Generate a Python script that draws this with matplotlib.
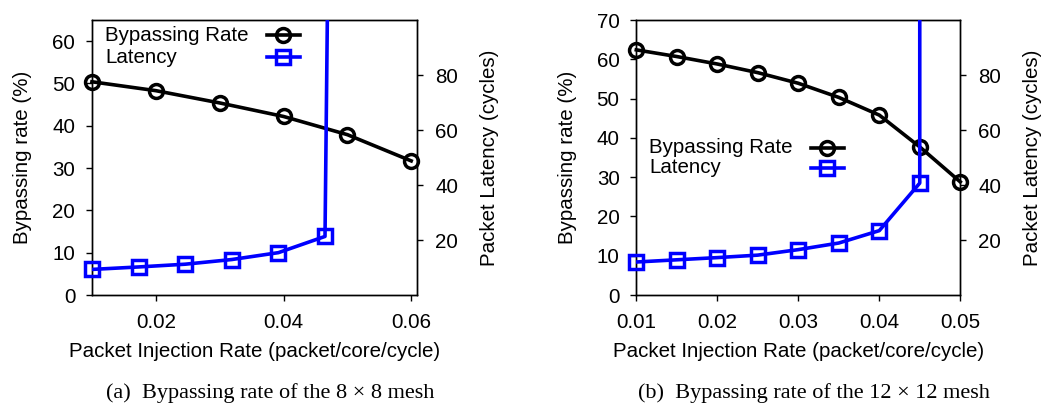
import matplotlib
matplotlib.use("Agg")
import numpy as np
import matplotlib.pyplot as plt


# =========================
# 1. Data
# =========================
# (a) 8x8 mesh
rate_8 = [0.01, 0.02, 0.03, 0.04, 0.05, 0.06]
bypass_8 = [50.4, 48.3, 45.4, 42.2, 37.9, 31.7]
lat_rate_8 = [0.01, 0.0173, 0.0246, 0.0319, 0.0392, 0.0465, 0.0470]
latency_8 = [9.3, 10.2, 11.2, 12.9, 15.4, 21.3, 130.0]

# (b) 12x12 mesh
rate_12 = [0.01, 0.015, 0.02, 0.025, 0.03, 0.035, 0.04, 0.045, 0.05]
bypass_12 = [62.4, 60.7, 58.8, 56.6, 53.9, 50.3, 45.8, 37.7, 28.8]
lat_rate_12 = [0.01, 0.015, 0.02, 0.025, 0.03, 0.035, 0.04, 0.045, 0.045]
latency_12 = [12.0, 12.8, 13.6, 14.5, 16.5, 18.9, 23.4, 40.7, 200.0]

captions = ["(a)  Bypassing rate of the 8 \u00d7 8 mesh",
            "(b)  Bypassing rate of the 12 \u00d7 12 mesh"]

FS = 14.8
CAP_FS = 16
LW = 2.6
MS = 10
MEW = 2.5
BLUE = "#0000ff"
plt.rcParams["font.family"] = ["Liberation Sans", "DejaVu Sans"]


def draw_panel(fig, rect, x1, y1, x2, y2, xlim, ylim, xticks, yticks, key_y):
    ax = fig.add_axes(rect)
    ax2 = ax.twinx()

    ax.plot(x1, y1, color="black", lw=LW, marker="o", ms=MS, mew=MEW,
            mfc="none", clip_on=False, zorder=5)

    # latency: line clipped at the top, markers kept whole at the edges
    ax2.plot(x2, y2, color=BLUE, lw=LW, zorder=4)
    x2 = np.array(x2)
    y2 = np.array(y2)
    keep = y2 <= 100
    ax2.plot(x2[keep], y2[keep], ls="none", marker="s", ms=MS, mew=MEW,
             mec=BLUE, mfc="none", clip_on=False, zorder=5)

    ax.set_xlim(*xlim)
    ax.set_ylim(*ylim)
    ax2.set_ylim(0, 100)
    ax.set_xticks(xticks)
    ax.set_xticklabels([f"{t:.2f}" for t in xticks])
    ax.set_yticks(yticks)
    ax2.set_yticks([20, 40, 60, 80])

    for a in (ax, ax2):
        a.tick_params(direction="out", length=4, width=1, labelsize=FS)
        for s in a.spines.values():
            s.set_linewidth(1.0)
    ax.tick_params(axis="x", pad=9)
    ax.tick_params(axis="y", pad=8)
    ax2.tick_params(axis="y", pad=9)

    ax.set_xlabel("Packet Injection Rate (packet/core/cycle)", fontsize=FS)
    ax.set_ylabel("Bypassing rate (%)", fontsize=FS)
    ax2.set_ylabel("Packet Latency (cycles)", fontsize=FS)
    ax.xaxis.set_label_coords(0.5, -0.207)
    ax.xaxis.label.set_va("center")
    ax.yaxis.set_label_coords(-0.213, 0.5)
    ax.yaxis.label.set_va("center")
    ax2.yaxis.set_label_coords(1.223, 0.5)
    ax2.yaxis.label.set_va("center")

    # gnuplot style key: text left, sample right
    ax2.text(0.04, key_y[0], "Bypassing Rate", transform=ax2.transAxes,
             fontsize=FS, va="center", ha="left")
    ax2.text(0.04, key_y[1], "Latency", transform=ax2.transAxes,
             fontsize=FS, va="center", ha="left")
    ax2.plot([0.538, 0.64], [key_y[0]] * 2, color="black", lw=LW,
             transform=ax2.transAxes, clip_on=False)
    ax2.plot([0.589], [key_y[0]], marker="o", ms=MS, mew=MEW, mec="black",
             mfc="none", transform=ax2.transAxes, clip_on=False)
    ax2.plot([0.538, 0.64], [key_y[1]] * 2, color=BLUE, lw=LW,
             transform=ax2.transAxes, clip_on=False)
    ax2.plot([0.589], [key_y[1]], marker="s", ms=MS, mew=MEW, mec=BLUE,
             mfc="none", transform=ax2.transAxes, clip_on=False)
    return ax


fig = plt.figure(figsize=(10.45, 4.05), dpi=100)

draw_panel(fig, [0.0880, 0.2716, 0.3110, 0.679],
           rate_8, bypass_8, lat_rate_8, latency_8,
           (0.01, 0.0609), (0, 65), [0.02, 0.04, 0.06],
           [0, 10, 20, 30, 40, 50, 60], (0.944, 0.865))

draw_panel(fig, [0.6089, 0.2716, 0.3100, 0.679],
           rate_12, bypass_12, lat_rate_12, latency_12,
           (0.01, 0.05), (0, 70), [0.01, 0.02, 0.03, 0.04, 0.05],
           [0, 10, 20, 30, 40, 50, 60, 70], (0.535, 0.462))

for cx, cap in zip([270 / 1045, 814 / 1045], captions):
    fig.text(cx, 1 - 393 / 405, cap, ha="center", va="center",
             fontsize=CAP_FS, family=["Liberation Serif", "DejaVu Serif"])

fig.savefig("out.png", dpi=100)
